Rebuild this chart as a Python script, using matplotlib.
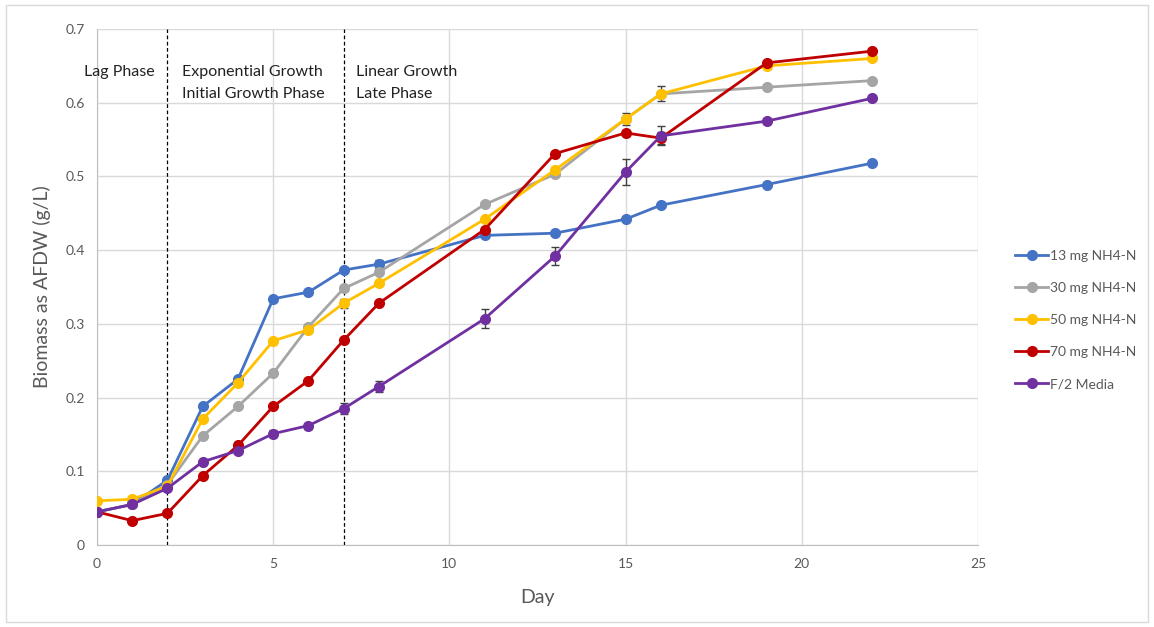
import matplotlib
matplotlib.use("Agg")
import matplotlib.pyplot as plt
from matplotlib.lines import Line2D
import numpy as np

plt.rcParams['font.family'] = ['Lato', 'DejaVu Sans']

days = [0, 1, 2, 3, 4, 5, 6, 7, 8, 11, 13, 15, 16, 19, 22]
series_names = ["13 mg NH4-N", "30 mg NH4-N", "50 mg NH4-N", "70 mg NH4-N", "F/2 Media"]
n13 = [0.045, 0.055, 0.088, 0.188, 0.225, 0.334, 0.343, 0.373, 0.381, 0.420, 0.423, 0.442, 0.461, 0.489, 0.518]
n30 = [0.045, 0.055, 0.082, 0.148, 0.188, 0.233, 0.296, 0.348, 0.370, 0.462, 0.503, 0.578, 0.612, 0.621, 0.630]
n50 = [0.060, 0.062, 0.080, 0.171, 0.220, 0.277, 0.292, 0.328, 0.355, 0.442, 0.509, 0.578, 0.612, 0.650, 0.660]
n70 = [0.045, 0.033, 0.043, 0.094, 0.135, 0.188, 0.223, 0.278, 0.328, 0.428, 0.531, 0.559, 0.552, 0.654, 0.670]
f2 = [0.045, 0.055, 0.077, 0.113, 0.128, 0.151, 0.162, 0.185, 0.215, 0.307, 0.392, 0.506, 0.555, 0.575, 0.606]

e13 = [0, 0, 0.003, 0, 0, 0, 0, 0.003, 0.005, 0, 0, 0, 0, 0, 0]
e30 = [0, 0, 0, 0, 0, 0, 0.003, 0.003, 0.003, 0, 0.003, 0.004, 0.004, 0, 0]
e50 = [0, 0, 0, 0, 0.003, 0.003, 0.004, 0.006, 0, 0, 0.004, 0.008, 0.010, 0, 0]
e70 = [0, 0, 0, 0, 0.003, 0, 0, 0, 0, 0.004, 0, 0, 0.008, 0, 0]
ef2 = [0, 0, 0, 0, 0, 0.005, 0.004, 0.007, 0.008, 0.013, 0.012, 0.017, 0.013, 0, 0]

colors = ["#4472C4", "#A5A5A5", "#FFC000", "#C00000", "#7030A0"]

fig = plt.figure(figsize=(11.54, 6.27), dpi=100)
# outer chart border
fig.patches.append(plt.Rectangle((6/1154, 5/627), 1142/1154, 617/627, transform=fig.transFigure,
                                 fill=False, edgecolor="#D9D9D9", linewidth=1))
ax = fig.add_axes([97/1154, 1 - 545/627, (978 - 97)/1154, (545 - 29)/627])

handles = []
for vals, errs, c, name in zip([n13, n30, n50, n70, f2], [e13, e30, e50, e70, ef2], colors, series_names):
    ax.errorbar(days, vals, yerr=errs, color=c, marker='o', markersize=7, linewidth=2,
                ecolor="#404040", elinewidth=1, capsize=3, capthick=1, zorder=3)
    handles.append(Line2D([0], [0], color=c, marker='o', markersize=7, linewidth=2, label=name))

ax.set_xlim(0, 25)
ax.set_ylim(0, 0.7)
ax.set_xticks([0, 5, 10, 15, 20, 25])
ax.set_yticks(np.arange(0, 0.71, 0.1))
ax.set_yticklabels(["0", "0.1", "0.2", "0.3", "0.4", "0.5", "0.6", "0.7"])
ax.grid(True, color="#D9D9D9", linewidth=1)
ax.set_axisbelow(True)
for s in ["top", "right"]:
    ax.spines[s].set_visible(False)
for s in ["left", "bottom"]:
    ax.spines[s].set_color("#BFBFBF")
ax.tick_params(axis='both', length=0, labelsize=10, labelcolor="#595959", pad=9)

ax.axvline(2, color="black", linestyle=(0, (3, 2)), linewidth=0.9, zorder=2)
ax.axvline(7, color="black", linestyle=(0, (3, 2)), linewidth=0.9, zorder=2)

ax.text(-0.38, 0.642, "Lag Phase", fontsize=11.5, va='center', ha='left', color="#222222")
ax.text(2.4, 0.642, "Exponential Growth", fontsize=11.5, va='center', ha='left', color="#222222")
ax.text(2.4, 0.612, "Initial Growth Phase", fontsize=11.5, va='center', ha='left', color="#222222")
ax.text(7.35, 0.642, "Linear Growth", fontsize=11.5, va='center', ha='left', color="#222222")
ax.text(7.35, 0.612, "Late Phase", fontsize=11.5, va='center', ha='left', color="#222222")

ax.set_xlabel("Day", fontsize=14, color="#595959", labelpad=14)
ax.set_ylabel("Biomass as AFDW (g/L)", fontsize=14, color="#595959", labelpad=10)

leg = fig.legend(handles=handles, loc='center left', bbox_to_anchor=(1015/1154, 1 - 320/627),
                 frameon=False, fontsize=10, labelcolor="#595959", handlelength=2.4,
                 handletextpad=0.15, labelspacing=1.45, borderpad=0, borderaxespad=0)

fig.savefig("out.png", dpi=100)
